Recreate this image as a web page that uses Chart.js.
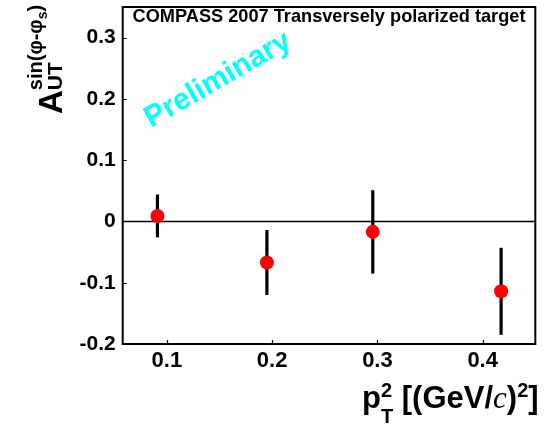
<!DOCTYPE html>
<html>
<head>
<meta charset="utf-8">
<script src="https://cdn.jsdelivr.net/npm/chart.js@4"></script>
<style>
  html, body { margin: 0; padding: 0; background: #fff; }
  #grafico { display: block; }
</style>
</head>
<body>
<canvas id="grafico" width="547" height="424"></canvas>
<script>
// pT^2 bins and measured asymmetry with statistical errors
var pt2 = [0.091, 0.195, 0.2956, 0.4175];
var assimetria = [0.009, -0.067, -0.017, -0.114];
var erroAssimetria = [0.035, 0.053, 0.068, 0.071];

var eixoX = { min: 0.058, max: 0.45, passo: 0.1 };
var eixoY = { min: -0.2, max: 0.35, passo: 0.1 };

var fonte = '"Liberation Sans", Arial, Helvetica, sans-serif';

var pontos = pt2.map(function (x, i) {
    return { x: x, y: assimetria[i] };
});

// writes pieces of text one after another (sub/superscripts via dy)
function escreveTrechos(ctx, x, y, trechos) {
    var cx = x;
    var guarda = 0;
    trechos.forEach(function (t) {
        ctx.font = t.font;
        ctx.fillText(t.text, cx, y + (t.dy || 0));
        var w = ctx.measureText(t.text).width;
        if (t.fica) {
            guarda = Math.max(guarda, w);
        } else {
            cx += Math.max(w, guarda);
            guarda = 0;
        }
    });
}

// no extra room for the half labels at the ends of the axes
function semSobra(s) {
    s.paddingTop = 0;
    s.paddingBottom = 0;
    s.paddingLeft = 0;
    s.paddingRight = 0;
}

// zero line and error bars, below the markers
var barrasErro = {
    id: 'barrasErro',
    beforeDatasetsDraw: function (chart) {
        var ctx = chart.ctx;
        var a = chart.chartArea;
        var sx = chart.scales.x;
        var sy = chart.scales.y;
        ctx.save();
        ctx.strokeStyle = '#000';
        ctx.lineWidth = 1.5;
        ctx.beginPath();
        ctx.moveTo(a.left, sy.getPixelForValue(0));
        ctx.lineTo(a.right, sy.getPixelForValue(0));
        ctx.stroke();

        ctx.lineWidth = 3.2;
        pt2.forEach(function (x, i) {
            var px = sx.getPixelForValue(x);
            ctx.beginPath();
            ctx.moveTo(px, sy.getPixelForValue(assimetria[i] + erroAssimetria[i]));
            ctx.lineTo(px, sy.getPixelForValue(assimetria[i] - erroAssimetria[i]));
            ctx.stroke();
        });
        ctx.restore();
    }
};

// frame, inner ticks and all the texts
var moldura = {
    id: 'moldura',
    afterDraw: function (chart) {
        var ctx = chart.ctx;
        var a = chart.chartArea;
        var sx = chart.scales.x;
        var sy = chart.scales.y;
        ctx.save();
        ctx.strokeStyle = '#000';
        ctx.lineWidth = 2;
        ctx.strokeRect(a.left, a.top, a.right - a.left, a.bottom - a.top);

        ctx.lineWidth = 1.2;
        ctx.beginPath();
        sx.ticks.forEach(function (t) {
            var px = Math.round(sx.getPixelForValue(t.value)) + 0.5;
            ctx.moveTo(px, a.bottom);
            ctx.lineTo(px, a.bottom - 4);
        });
        sy.ticks.forEach(function (t) {
            var py = Math.round(sy.getPixelForValue(t.value)) + 0.5;
            ctx.moveTo(a.left, py);
            ctx.lineTo(a.left + 4, py);
        });
        ctx.stroke();

        ctx.fillStyle = '#000';
        ctx.textAlign = 'center';
        ctx.textBaseline = 'alphabetic';
        ctx.font = 'bold 18.2px ' + fonte;
        ctx.fillText('COMPASS 2007 Transversely polarized target', (a.left + a.right) / 2, 22);

        // Preliminary stamp
        ctx.save();
        ctx.translate(218, 80);
        ctx.rotate(-30 * Math.PI / 180);
        ctx.fillStyle = '#00ffff';
        ctx.textBaseline = 'middle';
        ctx.font = 'bold 30px ' + fonte;
        ctx.fillText('Preliminary', 0, 0);
        ctx.restore();

        // x title: p_T^2 [(GeV/c)^2]
        ctx.textAlign = 'left';
        ctx.textBaseline = 'alphabetic';
        var negrito = 'bold 31px ' + fonte;
        var pequeno = 'bold 20px ' + fonte;
        escreveTrechos(ctx, 362, 408, [
            { text: 'p', font: negrito },
            { text: '2', font: pequeno, dy: -11, fica: true },
            { text: 'T', font: pequeno, dy: 15 },
            { text: ' [(GeV/', font: negrito },
            { text: 'c', font: 'italic 31px "Liberation Serif", "Times New Roman", serif' },
            { text: ')', font: negrito },
            { text: '2', font: pequeno, dy: -11 },
            { text: ']', font: negrito }
        ]);

        // y title: A_UT^{sin(phi-phi_s)}
        ctx.save();
        ctx.translate(62, 114);
        ctx.rotate(-Math.PI / 2);
        var sup = 'bold 20px ' + fonte;
        ctx.font = 'bold 33px ' + fonte;
        var larguraA = ctx.measureText('A').width;
        escreveTrechos(ctx, 0, 0, [
            { text: 'A', font: 'bold 33px ' + fonte },
            { text: 'sin(\u03c6-\u03c6', font: sup, dy: -20 },
            { text: 's', font: 'bold 14px ' + fonte, dy: -15 },
            { text: ')', font: sup, dy: -20 }
        ]);
        ctx.font = 'bold 21px ' + fonte;
        ctx.fillText('UT', larguraA, 0);
        ctx.restore();

        ctx.restore();
    }
};

var ctx = document.getElementById('grafico').getContext('2d');
var grafico = new Chart(ctx, {
    type: 'scatter',
    data: {
        datasets: [{
            label: 'A_UT',
            data: pontos,
            pointRadius: 7,
            pointHoverRadius: 7,
            pointBackgroundColor: '#ff0000',
            pointBorderWidth: 0,
            pointBorderColor: '#ff0000'
        }]
    },
    options: {
        responsive: false,
        animation: false,
        events: [],
        layout: { padding: { top: 4, right: 11.7, left: 0, bottom: 0 } },
        plugins: {
            legend: { display: false },
            tooltip: { enabled: false }
        },
        scales: {
            x: {
                type: 'linear',
                min: eixoX.min,
                max: eixoX.max,
                grid: { display: false, drawTicks: false },
                border: { display: false },
                ticks: {
                    stepSize: eixoX.passo,
                    includeBounds: false,
                    autoSkip: false,
                    maxRotation: 0,
                    padding: 4,
                    color: '#000',
                    font: { family: fonte, size: 22, weight: 'bold' },
                    callback: function (v) { return v.toFixed(1); }
                },
                afterFit: function (s) { s.height = 80; semSobra(s); }
            },
            y: {
                type: 'linear',
                min: eixoY.min,
                max: eixoY.max,
                grid: { display: false, drawTicks: false },
                border: { display: false },
                ticks: {
                    stepSize: eixoY.passo,
                    includeBounds: false,
                    autoSkip: false,
                    padding: 7,
                    color: '#000',
                    font: { family: fonte, size: 21, weight: 'bold' },
                    callback: function (v) { return v === 0 ? '0' : v.toFixed(1); }
                },
                afterFit: function (s) { s.width = 122.7; semSobra(s); }
            }
        }
    },
    plugins: [barrasErro, moldura]
});
</script>
</body>
</html>
